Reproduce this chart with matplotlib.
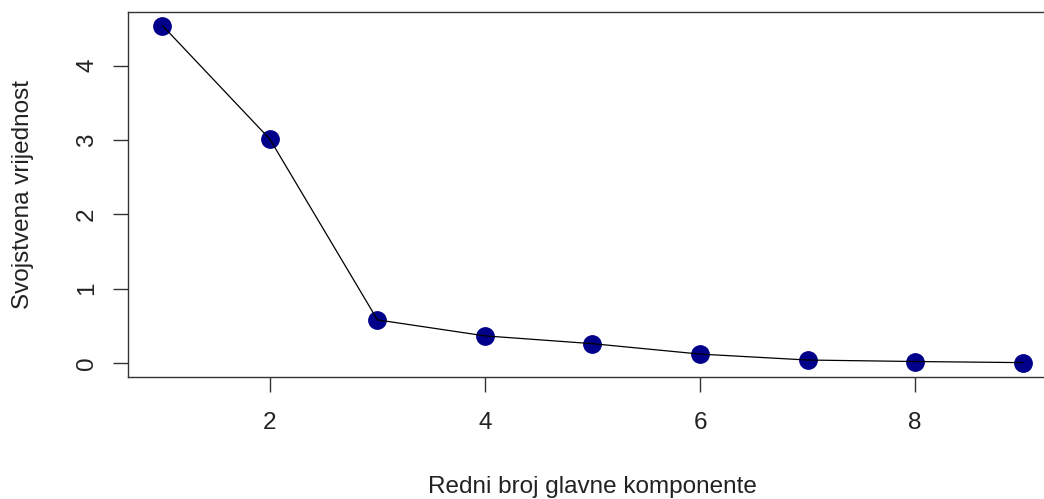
import matplotlib
matplotlib.use("Agg")
import matplotlib.pyplot as plt

components = [1, 2, 3, 4, 5, 6, 7, 8, 9]
eigenvalues = [4.54, 3.01, 0.58, 0.365, 0.26, 0.12, 0.04, 0.02, 0.005]
xticks = [2, 4, 6, 8]
yticks = [0, 1, 2, 3, 4]

plt.rcParams['font.family'] = ['Liberation Sans', 'DejaVu Sans']

W, H = 1044, 499
fig = plt.figure(figsize=(W / 100, H / 100), dpi=100)
left, right, top, bottom = 128, 1057, 12, 376.5
ax = fig.add_axes([left / W, 1 - bottom / H, (right - left) / W, (bottom - top) / H])

ax.plot(components, eigenvalues, color='black', lw=0.9, zorder=3)
ax.plot(components, eigenvalues, 'o', color='#00008B', ms=12.5, mec='#00008B', zorder=2)

xmin, xmax = min(components), max(components)
ax.set_xlim(xmin - 0.04 * (xmax - xmin), xmax + 0.04 * (xmax - xmin))
ymin, ymax = 0, max(eigenvalues)
ax.set_ylim(ymin - 0.04 * (ymax - ymin), ymax + 0.04 * (ymax - ymin))

FS = 17.5
ax.set_xticks(xticks)
ax.set_yticks(yticks)
ax.tick_params(axis='both', direction='out', length=10.5, width=1.0, color='#333333',
               labelsize=FS, labelcolor='#222222')
ax.tick_params(axis='x', pad=15)
ax.tick_params(axis='y', pad=11)
for lab in ax.get_yticklabels():
    lab.set_rotation(90)
    lab.set_va('center')

for s in ax.spines.values():
    s.set_linewidth(1.0)
    s.set_color('#333333')

ax.set_xlabel('Redni broj glavne komponente', fontsize=FS, color='#222222')
ax.set_ylabel('Svojstvena vrijednost', fontsize=FS, color='#222222')
ax.xaxis.set_label_coords(0.5, -(487 - bottom) / (bottom - top))
ax.xaxis.label.set_va('center')
ax.yaxis.set_label_coords(-(left - 23) / (right - left), 0.5)
ax.yaxis.label.set_va('center')

fig.savefig('out.png', dpi=100)
